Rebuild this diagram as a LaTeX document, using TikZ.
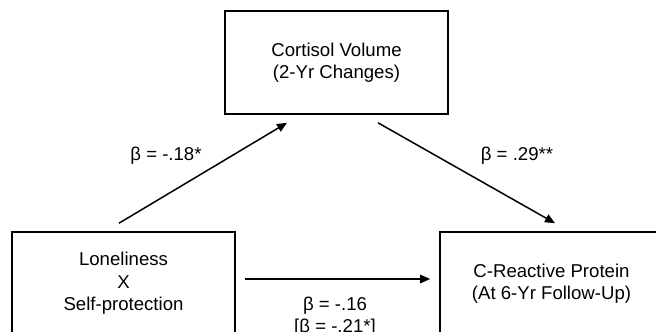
\documentclass[tikz,border=0pt]{standalone}
\usepackage{fontspec}
\setmainfont{Liberation Sans}
\usetikzlibrary{arrows.meta,calc}
\begin{document}
\begin{tikzpicture}[x=1pt,y=-1pt,
  box/.style={draw,line width=1.6pt,minimum width=223pt,minimum height=103pt,inner sep=0pt,align=center,font=\fontsize{18.6}{22.5}\selectfont},
  lbl/.style={align=center,font=\fontsize{18.6}{22}\selectfont,inner sep=0pt},
  conn/.style={line width=1.5pt,-{Triangle[length=10pt,width=8.5pt]}}]
\useasboundingbox (0,0) rectangle (656,332);
\clip (0,0) rectangle (656,332);
\node[box] (T) at (336.5,62.5) {Cortisol Volume\\(2-Yr Changes)};
\node[box] (L) at (123.5,283.5) {Loneliness\\X\\Self-protection};
\node[box] (R) at (551.5,283.5) {C-Reactive Protein\\(At 6-Yr Follow-Up)};
\coordinate (a1) at ($(L.north)+(-4.5,-8)$);
\coordinate (a2) at ($(T.south)+(-49.5,8)$);
\coordinate (b1) at ($(T.south)+(41.5,8)$);
\coordinate (b2) at ($(R.north)+(3.5,-8)$);
\coordinate (c1) at ($(L.east)+(9,-4.5)$);
\coordinate (c2) at ($(R.west)+(-9,-4.5)$);
\draw[conn] (a1) -- (a2);
\draw[conn] (b1) -- (b2);
\draw[conn] (c1) -- (c2);
\node[lbl] (la) at (166,156) {β = -.18*};
\node[lbl] (lb) at (517,156) {β = .29**};
\node[lbl] (lc) at (335,317) {β = -.16\\{[}β = -.21*{]}};
\end{tikzpicture}
\end{document}
